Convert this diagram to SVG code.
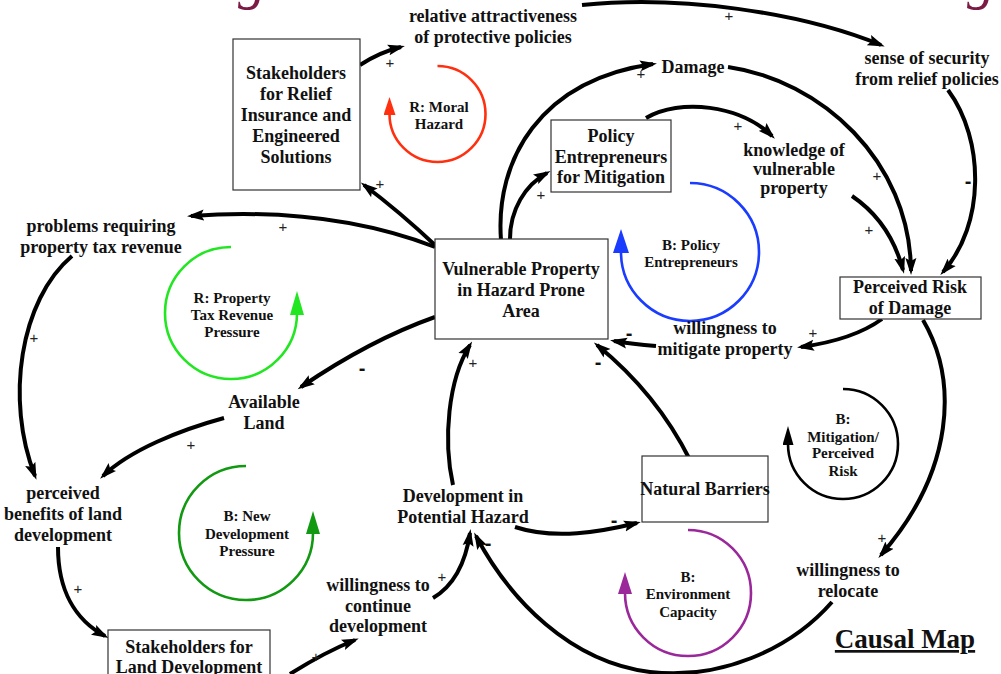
<svg xmlns="http://www.w3.org/2000/svg" width="1001" height="674" viewBox="0 0 1001 674">
<style>
.t{font-family:"Liberation Serif","Times New Roman",serif;font-weight:bold;font-size:18px;fill:#111;text-anchor:middle}
.lp{font-size:15px}
.ttl{font-size:27px;text-decoration:underline}
.box{fill:#fff;stroke:#333;stroke-width:1.2}
.c{fill:none;stroke:#000;stroke-width:4;marker-end:url(#ah)}
.pl{font-family:"Liberation Sans",Arial,sans-serif;font-size:15px;fill:#222;text-anchor:middle}
.mi{font-family:"Liberation Sans",Arial,sans-serif;font-weight:bold;font-size:20px;fill:#111;text-anchor:middle}
.loop{fill:none;stroke-width:2.6}
</style>
<defs>
<marker id="ah" markerUnits="userSpaceOnUse" markerWidth="18" markerHeight="12" refX="13" refY="6" orient="auto"><path d="M0,0.5 L17,6 L0,11.5 L3,6 z" fill="#000"/></marker>
<marker id="mRed" markerUnits="userSpaceOnUse" markerWidth="18" markerHeight="12" refX="1" refY="6" orient="auto"><path d="M0,0 L18,6 L0,12 z" fill="#ff3010"/></marker>
<marker id="mBlue" markerUnits="userSpaceOnUse" markerWidth="24" markerHeight="16" refX="1" refY="8" orient="auto"><path d="M0,0 L24,8 L0,16 z" fill="#1a3cff"/></marker>
<marker id="mLime" markerUnits="userSpaceOnUse" markerWidth="24" markerHeight="14" refX="2" refY="7" orient="auto"><path d="M0,0 L24,7 L0,14 z" fill="#22e622"/></marker>
<marker id="mGreen" markerUnits="userSpaceOnUse" markerWidth="23" markerHeight="14" refX="1" refY="7" orient="auto"><path d="M0,0 L23,7 L0,14 z" fill="#129912"/></marker>
<marker id="mPurple" markerUnits="userSpaceOnUse" markerWidth="22" markerHeight="14" refX="1" refY="7" orient="auto"><path d="M0,0 L22,7 L0,14 z" fill="#9a289a"/></marker>
<marker id="mBlack" markerUnits="userSpaceOnUse" markerWidth="19" markerHeight="11" refX="1" refY="5.5" orient="auto"><path d="M0,0 L19,5.5 L0,11 z" fill="#000"/></marker>
</defs>
<rect width="1001" height="674" fill="#fff"/>

<g id="title-remnants" font-family="'Liberation Serif',serif" font-style="italic" font-size="56" fill="#7b1a45">
<text x="238" y="-2">g</text>
<text x="967" y="-2">g</text>
</g>

<g id="loops">
<path class="loop" stroke="#ff3010" d="M437.5,66 A48,48 0 1 1 389.5,114" marker-end="url(#mRed)"/>
<path class="loop" stroke="#1a3cff" d="M690,183 A69,69 0 1 1 621,252" marker-end="url(#mBlue)"/>
<path class="loop" stroke="#22e622" d="M231,247 A66,66 0 1 0 297,313" marker-end="url(#mLime)"/>
<path class="loop" stroke="#129912" d="M246,466 A67,67 0 1 0 313,533" marker-end="url(#mGreen)"/>
<path class="loop" stroke="#9a289a" d="M688,530 A63,63 0 1 1 625,593" marker-end="url(#mPurple)"/>
<path class="loop" stroke="#000" stroke-width="2.2" d="M843,389 A55,55 0 1 1 788,444" marker-end="url(#mBlack)"/>
</g>

<g id="connectors">
<path class="c" d="M360,65 Q380,52 401,47"/>
<path class="c" d="M582,5 C680,-5 800,12 881,45"/>
<path class="c" d="M436,246 Q400,212 364,185"/>
<path class="c" d="M435,247 C380,226 300,208 191,216"/>
<path class="c" d="M72,256 C20,300 5,400 35,476"/>
<path class="c" d="M435,317 Q370,340 301,387"/>
<path class="c" d="M224,418 C180,430 130,450 103,476"/>
<path class="c" d="M58,547 C58,590 75,620 105,636"/>
<path class="c" d="M290,674 Q325,652 355,640"/>
<path class="c" d="M433,598 C455,585 466,560 470,533"/>
<path class="c" d="M453,485 C443,440 448,380 470,345"/>
<path class="c" d="M515,527 C555,540 600,532 637,523"/>
<path class="c" d="M690,460 C670,420 640,380 597,345"/>
<path class="c" d="M656,346 Q632,344 614,341"/>
<path class="c" d="M882,319 C860,335 830,343 801,347"/>
<path class="c" d="M923,320 C958,380 955,470 881,555"/>
<path class="c" d="M832,602 C790,650 720,680 650,672 C570,662 510,600 476,536"/>
<path class="c" d="M510,239 C510,210 525,185 547,173"/>
<path class="c" d="M501,240 C495,160 540,80 653,64"/>
<path class="c" d="M728,67 C820,80 910,160 911,271"/>
<path class="c" d="M646,118 C680,98 740,105 772,136"/>
<path class="c" d="M852,196 C880,215 895,240 903,270"/>
<path class="c" d="M948,90 C985,140 985,225 943,272"/>
</g>

<g id="polarities">
<text class="pl" x="390" y="68">+</text>
<text class="pl" x="729" y="21">+</text>
<text class="pl" x="380" y="189">+</text>
<text class="pl" x="283" y="232">+</text>
<text class="pl" x="34" y="343">+</text>
<text class="mi" x="362" y="375">-</text>
<text class="pl" x="191" y="450">+</text>
<text class="pl" x="78" y="594">+</text>
<text class="pl" x="316" y="662">+</text>
<text class="pl" x="442" y="582">+</text>
<text class="pl" x="473" y="368">+</text>
<text class="mi" x="614" y="527">-</text>
<text class="mi" x="598" y="369">-</text>
<text class="mi" x="629" y="340">-</text>
<text class="pl" x="813" y="338">+</text>
<text class="pl" x="882" y="543">+</text>
<text class="mi" x="488" y="550">-</text>
<text class="pl" x="541" y="200">+</text>
<text class="pl" x="641" y="79">+</text>
<text class="pl" x="877" y="181">+</text>
<text class="pl" x="738" y="131">+</text>
<text class="pl" x="869" y="235">+</text>
<text class="mi" x="968" y="188">-</text>
</g>

<g id="stakeholders-relief">
<rect class="box" x="233" y="39" width="127" height="151"/>
<text class="t" x="296" y="79">Stakeholders</text>
<text class="t" x="296" y="100">for Relief</text>
<text class="t" x="296" y="121">Insurance and</text>
<text class="t" x="296" y="142">Engineered</text>
<text class="t" x="296" y="163">Solutions</text>
</g>
<g id="relative-attractiveness">
<text class="t" x="493" y="22">relative attractiveness</text>
<text class="t" x="493" y="43">of protective policies</text>
</g>
<g id="sense-of-security">
<text class="t" x="927" y="64">sense of security</text>
<text class="t" x="927" y="85">from relief policies</text>
</g>
<g id="damage"><text class="t" x="693" y="73">Damage</text></g>
<g id="policy-entrepreneurs">
<rect class="box" x="551" y="120" width="120" height="72"/>
<text class="t" x="611" y="142">Policy</text>
<text class="t" x="611" y="163">Entrepreneurs</text>
<text class="t" x="611" y="183">for Mitigation</text>
</g>
<g id="knowledge">
<text class="t" x="794" y="156">knowledge of</text>
<text class="t" x="794" y="175">vulnerable</text>
<text class="t" x="794" y="194">property</text>
</g>
<g id="perceived-risk">
<rect class="box" x="840" y="277" width="141" height="42"/>
<text class="t" x="910" y="293">Perceived Risk</text>
<text class="t" x="910" y="314">of Damage</text>
</g>
<g id="willingness-mitigate">
<text class="t" x="725" y="334">willingness to</text>
<text class="t" x="725" y="355">mitigate property</text>
</g>
<g id="vulnerable-property">
<rect class="box" x="435" y="239" width="173" height="100"/>
<text class="t" x="521" y="275">Vulnerable Property</text>
<text class="t" x="521" y="296">in Hazard Prone</text>
<text class="t" x="521" y="317">Area</text>
</g>
<g id="problems-tax">
<text class="t" x="101" y="232">problems requiring</text>
<text class="t" x="101" y="253">property tax revenue</text>
</g>
<g id="available-land">
<text class="t" x="264" y="408">Available</text>
<text class="t" x="264" y="429">Land</text>
</g>
<g id="perceived-benefits">
<text class="t" x="63" y="499">perceived</text>
<text class="t" x="63" y="520">benefits of land</text>
<text class="t" x="63" y="541">development</text>
</g>
<g id="stakeholders-land">
<rect class="box" x="108" y="630" width="162" height="60"/>
<text class="t" x="189" y="653">Stakeholders for</text>
<text class="t" x="189" y="673">Land Development</text>
</g>
<g id="willingness-continue">
<text class="t" x="378" y="591">willingness to</text>
<text class="t" x="378" y="612">continue</text>
<text class="t" x="378" y="632">development</text>
</g>
<g id="development-hazard">
<text class="t" x="463" y="502">Development in</text>
<text class="t" x="463" y="523">Potential Hazard</text>
</g>
<g id="natural-barriers">
<rect class="box" x="642" y="456" width="126" height="66"/>
<text class="t" x="705" y="495">Natural Barriers</text>
</g>
<g id="willingness-relocate">
<text class="t" x="848" y="576">willingness to</text>
<text class="t" x="848" y="597">relocate</text>
</g>

<g id="loop-labels">
<text class="t lp" x="439" y="112">R: Moral</text>
<text class="t lp" x="439" y="129">Hazard</text>
<text class="t lp" x="691" y="250">B: Policy</text>
<text class="t lp" x="691" y="267">Entrepreneurs</text>
<text class="t lp" x="232" y="303">R: Property</text>
<text class="t lp" x="232" y="320">Tax Revenue</text>
<text class="t lp" x="232" y="337">Pressure</text>
<text class="t lp" x="247" y="521">B: New</text>
<text class="t lp" x="247" y="539">Development</text>
<text class="t lp" x="247" y="556">Pressure</text>
<text class="t lp" x="688" y="582">B:</text>
<text class="t lp" x="688" y="599">Environment</text>
<text class="t lp" x="688" y="617">Capacity</text>
<text class="t lp" x="843" y="424">B:</text>
<text class="t lp" x="843" y="442">Mitigation/</text>
<text class="t lp" x="843" y="458">Perceived</text>
<text class="t lp" x="843" y="476">Risk</text>
</g>

<g id="title">
<text class="t ttl" x="905" y="648">Causal Map</text>
</g>
</svg>
